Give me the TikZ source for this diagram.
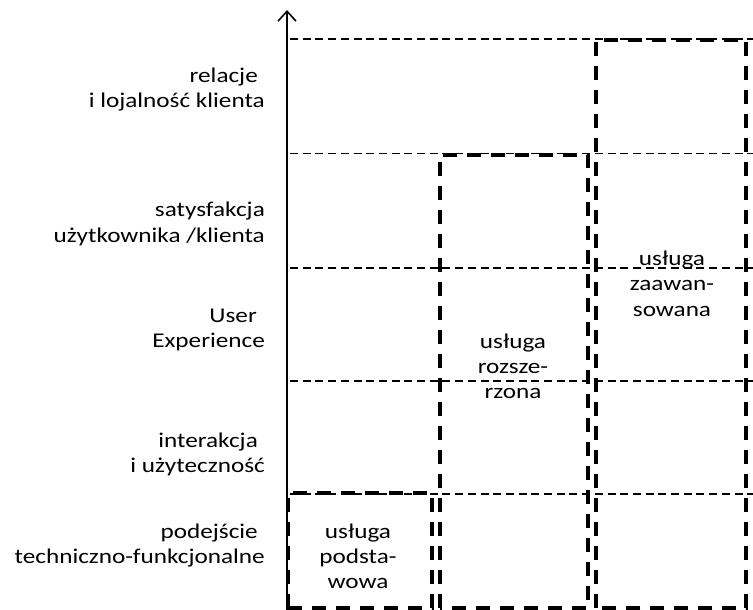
\documentclass[tikz,border=0pt]{standalone}
\usepackage{fontspec}
\setmainfont{Carlito}[FakeStretch=1.2]
\usetikzlibrary{arrows.meta}
\begin{document}
\begin{tikzpicture}[x=1pt,y=-1pt,
  lbl/.style={anchor=base east, inner sep=0pt, font=\fontsize{21}{25}\selectfont},
  btxt/.style={anchor=base, inner sep=0pt, font=\fontsize{21}{25}\selectfont},
  gridline/.style={line width=1.3pt, dash pattern=on 8pt off 4.7pt},
  boxline/.style={line width=3.8pt, dash pattern=on 14pt off 10pt},
]
\useasboundingbox (0,0) rectangle (753,610);
% horizontal grid
\foreach \y/\n in {39/g1,153.5/g2,268/g3,381/g4,494/g5}{
  \coordinate (\n a) at (290,\y);
  \coordinate (\n b) at (753,\y);
  \draw[gridline] (\n a) -- (\n b);
}
% axis
\coordinate (axb) at (287,610);
\coordinate (axt) at (287,10);
\draw[line width=1.6pt, -{Straight Barb[length=10pt,width=18pt,line width=1.6pt]}] (axb) -- (axt);
% boxes
\coordinate (b1a) at (288,608); \coordinate (b1b) at (432,493);
\coordinate (b2a) at (440,608); \coordinate (b2b) at (588,155);
\coordinate (b3a) at (596,608); \coordinate (b3b) at (746,40);
\draw[boxline] (b1a) rectangle (b1b);
\draw[boxline] (b2a) rectangle (b2b);
\draw[boxline] (b3a) rectangle (b3b);
% left labels
\node[lbl] (r1) at (258,82) {relacje};
\node[lbl] (r2) at (265,107) {i lojalność klienta};
\node[lbl] (s1) at (265,216) {satysfakcja};
\node[lbl] (s2) at (265,242) {użytkownika /klienta};
\node[lbl] (u1) at (257,322) {User};
\node[lbl] (u2) at (265,347) {Experience};
\node[lbl] (i1) at (258,447) {interakcja};
\node[lbl] (i2) at (265,472) {i użyteczność};
\node[lbl] (p1) at (258,538) {podejście};
\node[lbl] (p2) at (265,563) {techniczno-funkcjonalne};
% box texts
\node[btxt] (t1a) at (358,538) {usługa};
\node[btxt] (t1b) at (358,563) {podsta-};
\node[btxt] (t1c) at (358,588) {wowa};
\node[btxt] (t2a) at (513,348) {usługa};
\node[btxt] (t2b) at (513,373) {rozsze-};
\node[btxt] (t2c) at (513,398) {rzona};
\node[btxt] (t3a) at (672,265) {usługa};
\node[btxt] (t3b) at (672,290) {zaawan-};
\node[btxt] (t3c) at (672,316) {sowana};
\end{tikzpicture}
\end{document}
